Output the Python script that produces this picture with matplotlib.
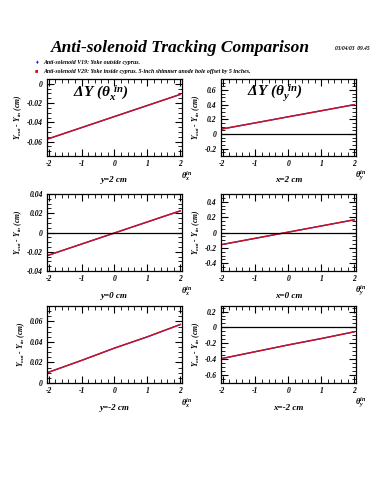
import numpy as np
import matplotlib
matplotlib.use("Agg")
import matplotlib.pyplot as plt
from matplotlib.ticker import MultipleLocator, FuncFormatter

plt.rcParams['font.family'] = ['Liberation Serif', 'DejaVu Serif']
plt.rcParams['axes.unicode_minus'] = False
plt.rcParams['mathtext.fontset'] = 'custom'
plt.rcParams['mathtext.rm'] = 'Liberation Serif:bold:italic'
plt.rcParams['mathtext.it'] = 'Liberation Serif:bold:italic'

# theta_in values where lines were read
theta = [-2, -1, 0, 1, 2]

# dY for each panel (V19 and V29 overlap)
dy_x_y2 = [-0.057, -0.0455, -0.034, -0.0225, -0.011]
dy_y_x2 = [0.07, 0.152, 0.235, 0.317, 0.40]
dy_x_y0 = [-0.0235, -0.012, -0.0005, 0.011, 0.0225]
dy_y_x0 = [-0.155, -0.075, 0.005, 0.085, 0.165]
dy_x_ym2 = [0.0105, 0.022, 0.034, 0.045, 0.057]
dy_y_xm2 = [-0.39, -0.305, -0.22, -0.14, -0.055]

panels = [
    ("y=2 cm", "x", dy_x_y2, (-0.075, 0.005), 0.02, 0.005, False),
    ("x=2 cm", "y", dy_y_x2, (-0.3, 0.75), 0.2, 0.05, True),
    ("y=0 cm", "x", dy_x_y0, (-0.04, 0.04), 0.02, 0.005, True),
    ("x=0 cm", "y", dy_y_x0, (-0.5, 0.5), 0.2, 0.05, True),
    ("y=-2 cm", "x", dy_x_ym2, (0, 0.075), 0.02, 0.005, False),
    ("x=-2 cm", "y", dy_y_xm2, (-0.7, 0.27), 0.2, 0.05, True),
]

fig = plt.figure(figsize=(3.75, 5), dpi=100)

lefts = [0.1253, 0.589]
bottoms = [0.688, 0.458, 0.234]
w, h = 0.36, 0.154

bi = dict(fontweight='bold', fontstyle='italic')

for i, (lab, comp, vals, ylim, major, minor, zero) in enumerate(panels):
    ax = fig.add_axes([lefts[i % 2], bottoms[i // 2], w, h])
    ax.plot(theta, vals, color='#3030c0', lw=1.0)
    ax.plot(theta, vals, color='#d0101a', lw=1.0)
    if zero:
        ax.axhline(0, color='black', lw=0.9)
    ax.set_xlim(-2.05, 2.05)
    ax.set_ylim(*ylim)
    ax.xaxis.set_major_locator(MultipleLocator(1))
    ax.xaxis.set_minor_locator(MultipleLocator(0.2))
    ax.yaxis.set_major_locator(MultipleLocator(major))
    ax.yaxis.set_minor_locator(MultipleLocator(minor))
    ax.xaxis.set_major_formatter(FuncFormatter(lambda v, p: '%g' % round(v, 4)))
    ax.yaxis.set_major_formatter(FuncFormatter(lambda v, p: '%g' % round(v, 4)))
    ax.tick_params(which='both', direction='in', top=True, right=True, labelsize=5.5, pad=3)
    ax.tick_params(which='major', length=5, width=0.8)
    ax.tick_params(which='minor', length=3, width=0.6)
    for t in ax.get_xticklabels() + ax.get_yticklabels():
        t.set_fontweight('bold')
        t.set_fontstyle('italic')
    for s in ax.spines.values():
        s.set_linewidth(0.9)
    ax.set_xlabel(lab, fontsize=6.5, labelpad=6, **bi)
    ax.set_ylabel(r'Y$_{out}$ - Y$_{in}$ (cm)', fontsize=5.5, labelpad=2, **bi)
    ax.text(0.99, -0.25, r'$\theta_{%s}^{in}$' % comp, transform=ax.transAxes,
            fontsize=6, ha='left', va='center')
    if i < 2:
        ax.text(0.19, 0.82, r'$\Delta Y\ (\theta_{%s}^{\ in})$' % comp,
                transform=ax.transAxes, fontsize=11, ha='left', va='center')

fig.text(0.48, 0.903, 'Anti-solenoid Tracking Comparison', fontsize=12.5,
         ha='center', va='center', **bi)
fig.text(0.985, 0.903, '03/04/03  09.45', fontsize=4, ha='right', va='center', **bi)

fig.text(0.098, 0.875, '\u2666', color='#2020c0', fontsize=4, ha='center', va='center')
fig.text(0.098, 0.858, '\u25a0', color='#d01010', fontsize=4, ha='center', va='center')
fig.text(0.115, 0.875, 'Anti-solenoid V19: Yoke outside cyprus.', fontsize=4.2,
         ha='left', va='center', **bi)
fig.text(0.115, 0.858, 'Anti-solenoid V29: Yoke inside cyprus. 5-inch shimmer anode hole offset by 5 inches.',
         fontsize=4.2, ha='left', va='center', **bi)

fig.savefig('out.png', dpi=100)
